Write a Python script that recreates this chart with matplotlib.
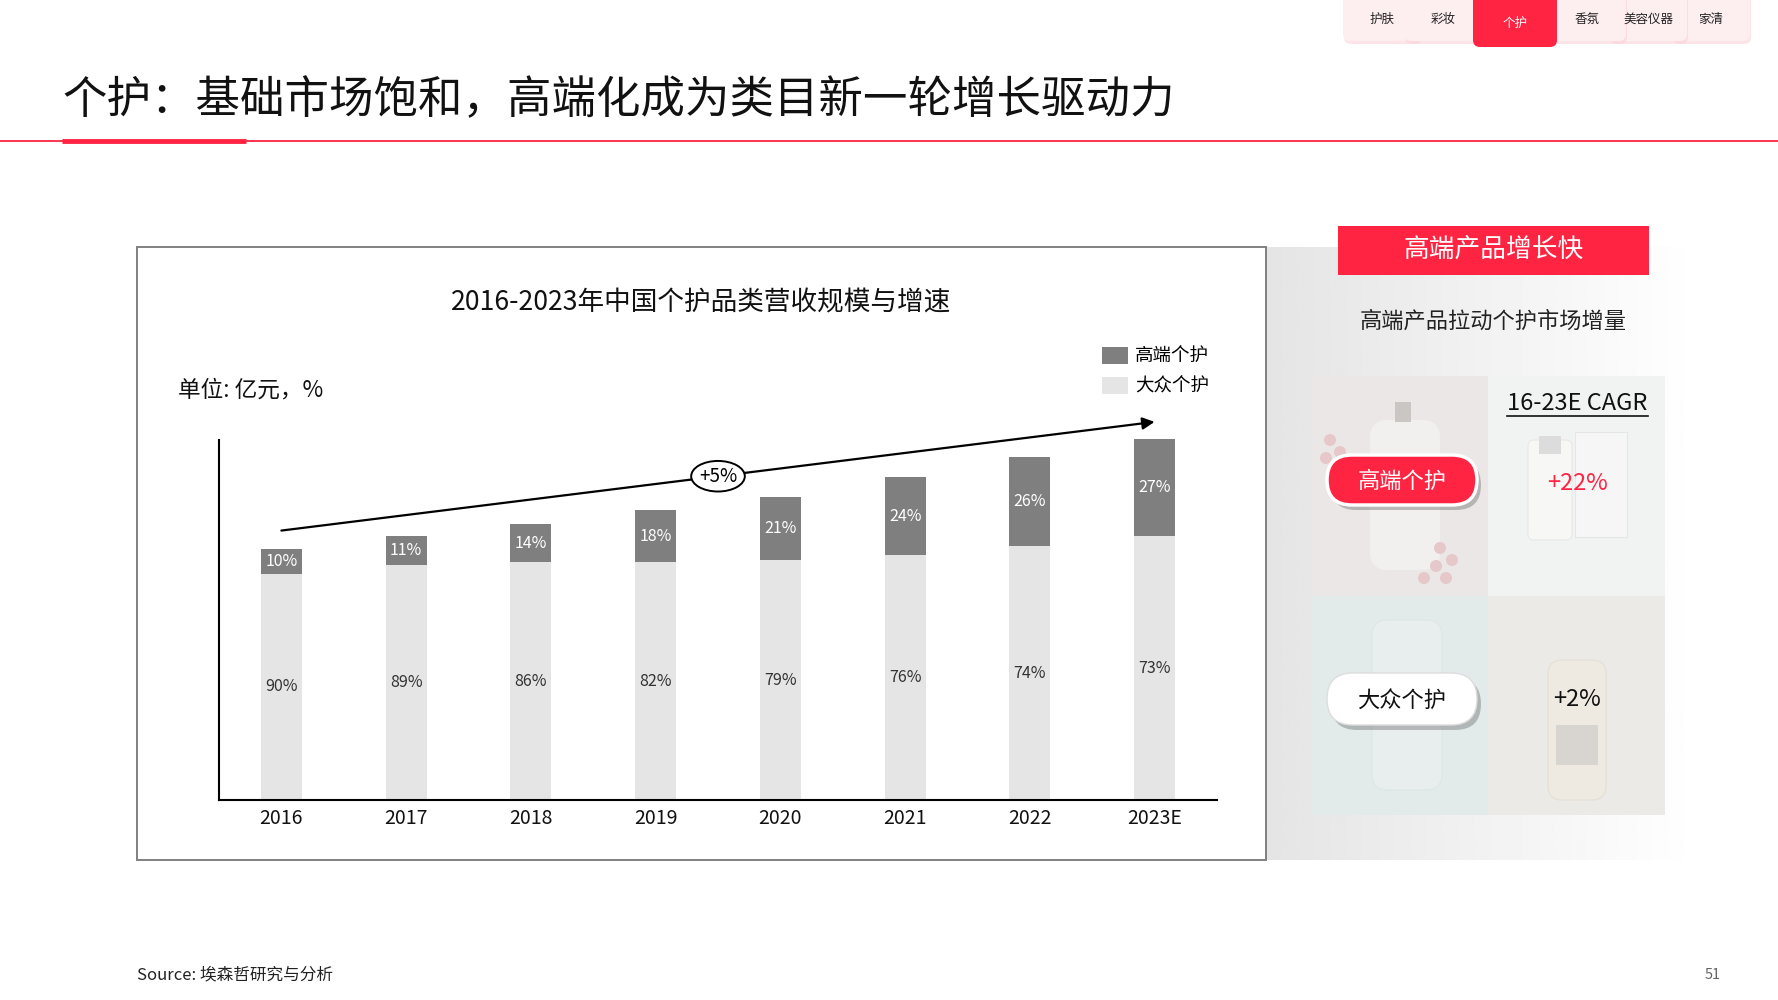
import matplotlib.pyplot as plt
import numpy as np
from matplotlib.patches import Rectangle, FancyBboxPatch, Ellipse

plt.rcParams['font.family'] = ['Noto Sans CJK SC', 'DejaVu Sans']

RED = '#ff2442'
DARK = '#7f7f7f'
LIGHT = '#e5e5e5'

# data (totals are not labelled)
years = ['2016', '2017', '2018', '2019', '2020', '2021', '2022', '2023E']
total = [2220, 2330, 2440, 2560, 2680, 2850, 3030, 3190]
share_premium = [10, 11, 14, 18, 21, 24, 26, 27]
share_mass = [90, 89, 86, 82, 79, 76, 74, 73]
cagr_total = '+5%'
cagr_names = ['高端个护', '大众个护']
cagr_values = ['+22%', '+2%']
tabs = ['护肤', '彩妆', '个护', '香氛', '美容仪器', '家清']
active_tab = '个护'

premium = np.array(total) * np.array(share_premium) / 100
mass = np.array(total) * np.array(share_mass) / 100

fig = plt.figure(figsize=(17.78, 10), dpi=100)

# background layer in pixel coordinates
bg = fig.add_axes([0, 0, 1, 1], zorder=0)
bg.set_xlim(0, 1778)
bg.set_ylim(1000, 0)
bg.axis('off')

# --- top tabs
tab_x = [1382, 1443, 1515, 1587, 1648, 1711]
order = [0, 1, 5, 4, 3, 2]
for i in order:
    name = tabs[i]
    cx = tab_x[i]
    if name == active_tab:
        bg.add_patch(FancyBboxPatch((cx - 42, -12), 84, 59, boxstyle='round,pad=0,rounding_size=7',
                                    fc=RED, ec='none', zorder=3))
        bg.text(cx, 23, name, color='white', fontsize=9, ha='center', va='center', zorder=4)
    else:
        bg.add_patch(FancyBboxPatch((cx - 38, -10), 78, 54, boxstyle='round,pad=0,rounding_size=7',
                                    fc='#fbd3d9', ec='none', alpha=0.6, zorder=2))
        bg.add_patch(FancyBboxPatch((cx - 39, -12), 78, 53, boxstyle='round,pad=0,rounding_size=7',
                                    fc='#fdeef0', ec='none', zorder=2))
        bg.text(cx, 19, name, color='#222222', fontsize=9, ha='center', va='center', zorder=4)

# --- title
bg.text(62, 100, '个护：基础市场饱和，高端化成为类目新一轮增长驱动力', fontsize=32,
        color='#111111', ha='left', va='center')
bg.plot([0, 1778], [141, 141], color=RED, lw=1.3)
bg.plot([62, 246], [141, 141], color=RED, lw=3.5, solid_capstyle='butt')

# --- right grey panel
grad = np.linspace(0.895, 1.0, 256)
grad = np.tile(grad, (2, 1))
bg.imshow(grad, cmap='gray', vmin=0, vmax=1, extent=[1266, 1700, 860, 247], aspect='auto', zorder=0)

# --- chart frame
bg.add_patch(Rectangle((137, 247), 1129, 613, fc='white', ec='#808080', lw=1.4, zorder=1))
bg.text(701, 303, '2016-2023年中国个护品类营收规模与增速', fontsize=19.2, color='#111111',
        ha='center', va='center', zorder=3)
bg.text(178, 390, '单位: 亿元，%', fontsize=16.3, color='#111111', ha='left', va='center', zorder=3)

# --- bar chart
ax = fig.add_axes([219 / 1778, 200 / 1000, 998 / 1778, 360 / 1000], zorder=1)
ax.set_facecolor('none')
x = np.arange(len(years))
b1 = ax.bar(x, mass, width=0.33, color=LIGHT, clip_on=False, zorder=2)
b2 = ax.bar(x, premium, bottom=mass, width=0.33, color=DARK, clip_on=False, zorder=2)
for i in range(len(years)):
    ax.text(x[i], mass[i] / 2, f'{share_mass[i]}%', ha='center', va='center',
            fontsize=11.5, color='#333333', zorder=3)
    ax.text(x[i], mass[i] + premium[i] / 2, f'{share_premium[i]}%', ha='center', va='center',
            fontsize=11.5, color='white', zorder=3)
ax.set_xlim(-0.5, 7.5)
ax.set_ylim(0, 3180)
ax.set_xticks(x)
ax.set_xticklabels(years, fontsize=14, color='#111111')
ax.set_yticks([])
ax.tick_params(axis='x', length=0, pad=6)
for s in ['top', 'right']:
    ax.spines[s].set_visible(False)
for s in ['left', 'bottom']:
    ax.spines[s].set_color('black')
    ax.spines[s].set_linewidth(1.5)

# growth arrow
y0 = total[0] + 160
y1 = total[-1] + 150
ax.annotate('', xy=(7, y1), xytext=(0, y0),
            arrowprops=dict(arrowstyle='-|>', color='black', lw=1.6, mutation_scale=18,
                            shrinkA=0, shrinkB=0),
            annotation_clip=False, zorder=4)
ax.add_patch(Ellipse((3.5, (y0 + y1) / 2), 0.43, 270, fc='white', ec='black', lw=1.4,
                     clip_on=False, zorder=5))
ax.text(3.5, (y0 + y1) / 2, cagr_total, fontsize=13.5, ha='center', va='center', zorder=6)

ax.legend([b2, b1], ['高端个护', '大众个护'], loc='upper left',
          bbox_to_anchor=(1102 / 1778, 1 - 347 / 1000), bbox_transform=fig.transFigure,
          frameon=False, fontsize=13.3, handlelength=1.4, handleheight=1.0,
          labelspacing=0.62, handletextpad=0.4, borderpad=0, borderaxespad=0)

# --- right panel content
bg.add_patch(Rectangle((1338, 226), 311, 49, fc=RED, ec='none', zorder=2))
bg.text(1493.5, 251, '高端产品增长快', color='white', fontsize=18.5, ha='center', va='center', zorder=3)
bg.text(1493, 321, '高端产品拉动个护市场增量', color='#222222', fontsize=16, ha='center', va='center', zorder=3)

tiles = [(1312, 376, '#ebe7e6'), (1488, 376, '#f1f2f2'), (1312, 596, '#e2eaea'), (1488, 596, '#ebeae7')]
for tx, ty, c in tiles:
    bg.add_patch(Rectangle((tx, ty), 176 if tx == 1312 else 177, 220 if ty == 376 else 219,
                           fc=c, ec='none', zorder=1))
# faint product hints
bg.add_patch(FancyBboxPatch((1370, 420), 70, 150, boxstyle='round,pad=0,rounding_size=18',
                            fc='#f2f0ee', ec='none', zorder=1))
bg.add_patch(Rectangle((1395, 402), 16, 20, fc='#c9c6c4', ec='none', zorder=1))
for cx, cy in [(1330, 440), (1340, 452), (1326, 458), (1440, 548), (1452, 560),
               (1436, 566), (1424, 578), (1446, 578)]:
    bg.add_patch(Ellipse((cx, cy), 12, 12, fc='#e6c8ca', ec='none', zorder=1))
bg.add_patch(FancyBboxPatch((1528, 440), 44, 100, boxstyle='round,pad=0,rounding_size=6',
                            fc='#f7f7f5', ec='#e8e8e6', lw=0.8, zorder=1))
bg.add_patch(Rectangle((1539, 436), 22, 18, fc='#dcdcdc', ec='none', zorder=1))
bg.add_patch(Rectangle((1575, 432), 52, 105, fc='#f5f6f5', ec='#e5e7e5', lw=0.8, zorder=1))
bg.add_patch(FancyBboxPatch((1372, 620), 70, 170, boxstyle='round,pad=0,rounding_size=16',
                            fc='#e8eeee', ec='#dfe6e6', lw=0.8, zorder=1))
bg.add_patch(FancyBboxPatch((1548, 660), 58, 140, boxstyle='round,pad=0,rounding_size=14',
                            fc='#eeeae2', ec='#e4dfd5', lw=0.8, zorder=1))
bg.add_patch(Rectangle((1556, 725), 42, 40, fc='#d8d5d0', ec='none', zorder=1))

bg.text(1577, 404, '16-23E CAGR', fontsize=17, color='#111111', ha='center', va='center', zorder=3)
bg.plot([1507, 1648], [416, 416], color='#111111', lw=1.2, zorder=3)

# pills
bg.add_patch(FancyBboxPatch((1331, 460), 150, 50, boxstyle='round,pad=0,rounding_size=25',
                            fc='#555555', ec='none', alpha=0.35, zorder=2))
bg.add_patch(FancyBboxPatch((1327, 455), 150, 50, boxstyle='round,pad=0,rounding_size=25',
                            fc=RED, ec='white', lw=2.5, zorder=3))
bg.text(1402, 481, cagr_names[0], color='white', fontsize=16, ha='center', va='center', zorder=4)
bg.add_patch(FancyBboxPatch((1331, 678), 150, 52, boxstyle='round,pad=0,rounding_size=26',
                            fc='#555555', ec='none', alpha=0.35, zorder=2))
bg.add_patch(FancyBboxPatch((1327, 673), 150, 52, boxstyle='round,pad=0,rounding_size=26',
                            fc='white', ec='#dddddd', lw=1, zorder=3))
bg.text(1402, 700, cagr_names[1], color='#111111', fontsize=16, ha='center', va='center', zorder=4)

bg.text(1577, 484, cagr_values[0], color=RED, fontsize=17, ha='center', va='center', zorder=3)
bg.text(1577, 700, cagr_values[1], color='#111111', fontsize=17, ha='center', va='center', zorder=3)

# --- footer
bg.text(137, 975, 'Source: 埃森哲研究与分析', fontsize=12, color='#222222', ha='left', va='center')
bg.text(1713, 975, '51', fontsize=10.5, color='#666666', ha='center', va='center')

fig.savefig('out.png', dpi=100)
